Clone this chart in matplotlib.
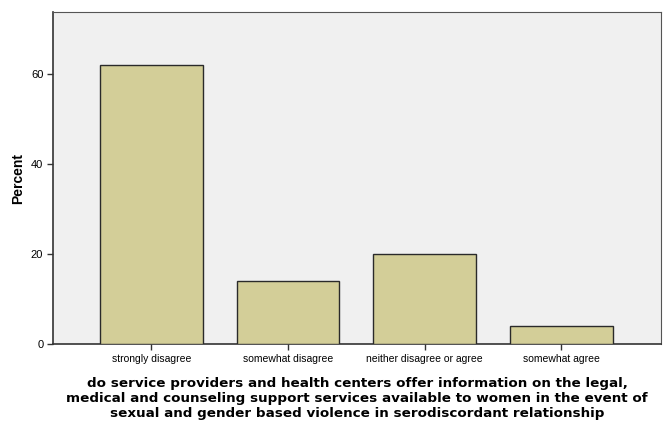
import matplotlib.pyplot as plt
import numpy as np

categories = ['strongly disagree', 'somewhat disagree', 'neither disagree or agree', 'somewhat agree']
percent = [62, 14, 20, 4]
yticks = [0, 20, 40, 60]
xtitle = ('do service providers and health centers offer information on the legal,\n'
          'medical and counseling support services available to women in the event of\n'
          'sexual and gender based violence in serodiscordant relationship')

plt.rcParams['font.family'] = ['Liberation Sans', 'DejaVu Sans']

fig = plt.figure(figsize=(6.65, 4.21), dpi=100)
ax = fig.add_axes([0.0797, 0.182, 0.9143, 0.7895])
ax.set_facecolor('#f0f0f0')

x = np.arange(len(categories))
ax.bar(x, percent, width=0.75, color='#d3ce98', edgecolor='#2a2a2a', linewidth=1.0, zorder=3)

ax.set_xlim(-0.72, 3.73)
ax.set_ylim(0, 73.7)
ax.set_xticks(x)
ax.set_xticklabels(categories, fontsize=7.5)
ax.set_yticks(yticks)
ax.set_yticklabels([str(v) for v in yticks], fontsize=8)
ax.tick_params(axis='both', length=4, width=1, color='#333333', pad=3)

for side in ['left', 'bottom']:
    ax.spines[side].set_color('#333333')
    ax.spines[side].set_linewidth(1.2)
for side in ['top', 'right']:
    ax.spines[side].set_color('#555555')
    ax.spines[side].set_linewidth(0.8)

ax.set_ylabel('Percent', fontsize=10, fontweight='bold', labelpad=4)
ax.set_xlabel(xtitle, fontsize=9.7, fontweight='bold', labelpad=9, linespacing=1.2,
              family='DejaVu Sans')

fig.savefig('out.png', dpi=100)
